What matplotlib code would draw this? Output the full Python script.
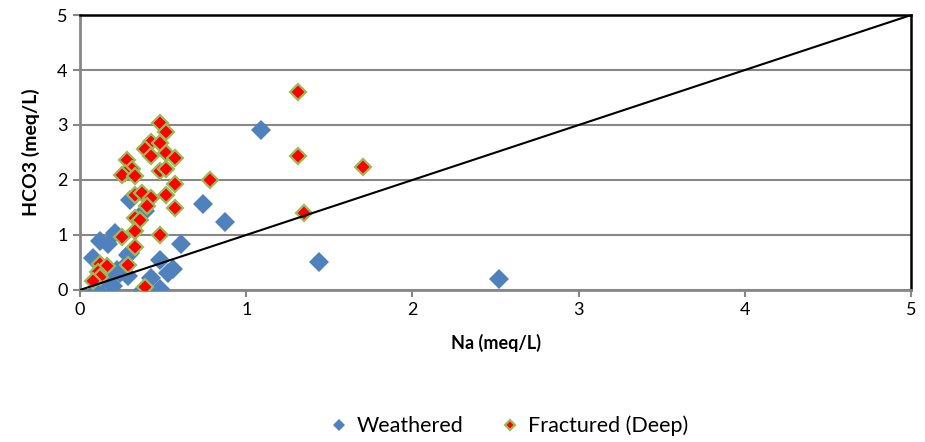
import matplotlib
matplotlib.use("Agg")
from matplotlib import pyplot as plt

plt.rcParams['font.family'] = ['Lato', 'DejaVu Sans']

# Weathered aquifer samples (Na vs HCO3, meq/L)
weathered_na = [1.09, 1.44, 2.52, 0.74, 0.87, 0.30, 0.39, 0.61, 0.21, 0.12,
                0.17, 0.08, 0.29, 0.30, 0.48, 0.43, 0.48, 0.53, 0.56, 0.22,
                0.19, 0.20, 0.10, 0.29, 0.26, 0.17, 0.14, 0.38, 0.24]
weathered_hco3 = [2.91, 0.51, 0.20, 1.56, 1.24, 1.64, 1.43, 0.84, 1.04, 0.89,
                  0.84, 0.58, 0.64, 0.68, 0.55, 0.21, 0.02, 0.30, 0.38, 0.36,
                  0.28, 0.08, 0.00, 0.25, 0.40, 0.30, 0.20, 0.00, 0.30]

# Fractured (deep) aquifer samples
fractured_na = [0.48, 0.52, 0.43, 0.48, 0.39, 0.43, 0.52, 0.57, 0.28, 0.31,
                0.27, 0.25, 0.33, 0.48, 0.52, 0.57, 0.78, 0.33, 0.37, 0.43,
                0.52, 0.40, 0.57, 0.33, 0.36, 0.33, 0.48, 0.25, 0.33, 0.29,
                0.12, 0.16, 0.11, 0.12, 0.08, 0.39, 1.31, 1.31, 1.70, 1.35]
fractured_hco3 = [3.03, 2.87, 2.69, 2.67, 2.56, 2.44, 2.49, 2.40, 2.36, 2.20,
                  2.12, 2.09, 2.07, 2.17, 2.20, 1.93, 2.00, 1.73, 1.77, 1.68,
                  1.73, 1.52, 1.49, 1.30, 1.28, 1.08, 1.00, 0.97, 0.78, 0.46,
                  0.48, 0.44, 0.33, 0.24, 0.16, 0.05, 3.60, 2.44, 2.24, 1.40]

line_x = [0, 5]
line_y = [0, 5]

fig = plt.figure(figsize=(9.25, 4.42), dpi=100)
ax = fig.add_axes([0.0865, 0.344, 0.8985, 0.622])

ax.plot(weathered_na, weathered_hco3, linestyle='none', marker='D', ms=10,
        color='#4F81BD', markeredgewidth=0, label='Weathered', zorder=3)
ax.plot(fractured_na, fractured_hco3, linestyle='none', marker='D', ms=8.5,
        markerfacecolor='#FF0000', markeredgecolor='#9BBB59', markeredgewidth=1.6,
        label='Fractured (Deep)', zorder=4)
ax.plot(line_x, line_y, color='black', lw=1.5, zorder=5)

ax.set_xlim(0, 5)
ax.set_ylim(0, 5)
ax.set_xticks(range(6))
ax.set_yticks(range(6))
ax.grid(axis='y', color='#878787', lw=1.5, zorder=0)
ax.set_axisbelow(True)

for side in ('left', 'bottom'):
    ax.spines[side].set_color('#878787')
    ax.spines[side].set_linewidth(2)
for side in ('top', 'right'):
    ax.spines[side].set_color('black')
    ax.spines[side].set_linewidth(1.8)
ax.tick_params(direction='out', length=5, width=1.5, color='#878787',
               labelsize=13, pad=4)

ax.set_xlabel('Na (meq/L)', fontsize=13, fontweight='bold', labelpad=11)
ax.set_ylabel('HCO3 (meq/L)', fontsize=14, fontweight='bold', labelpad=12)

fig.legend(loc='center', bbox_to_anchor=(0.548, 0.036), ncol=2, frameon=False,
           fontsize=15.5, handletextpad=0.2, columnspacing=1.6, markerscale=0.65,
           handlelength=1.2)

fig.savefig('out.png', dpi=100)
